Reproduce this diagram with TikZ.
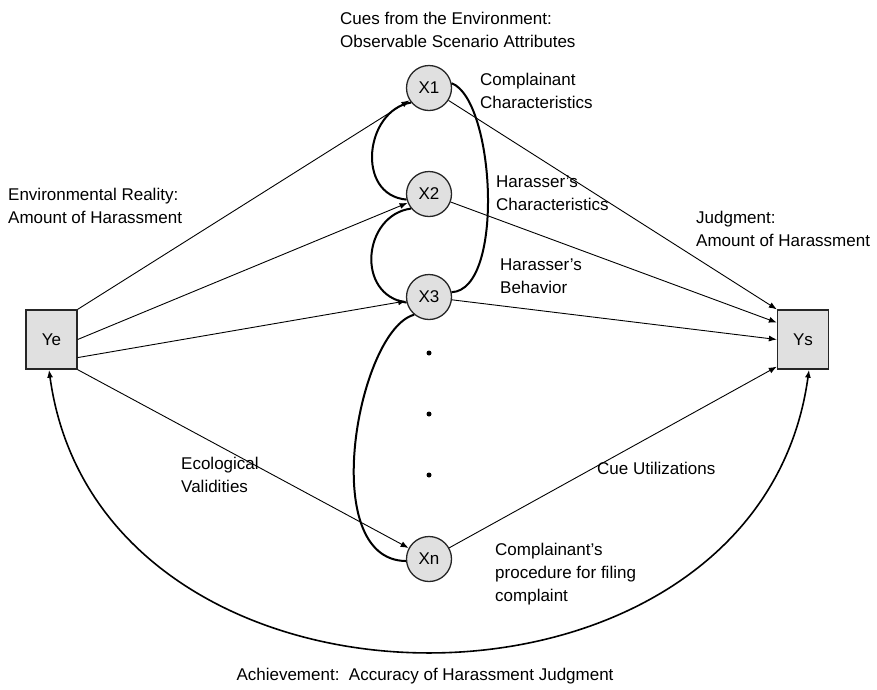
\documentclass[tikz,border=0pt]{standalone}
\usepackage{fontspec}
\setmainfont{Liberation Sans}
\usetikzlibrary{arrows.meta,calc}
\begin{document}
\begin{tikzpicture}[x=1pt,y=-1pt,
  every node/.style={font=\fontsize{17}{23}\selectfont},
  var/.style={draw=black!85,line width=1.3pt,fill=black!12,minimum width=51pt,minimum height=59pt,inner sep=0pt},
  cue/.style={draw=black!85,line width=1.3pt,fill=black!12,circle,minimum size=45pt,inner sep=0pt},
  lbl/.style={anchor=north west,align=left,inner sep=0pt},
  path/.style={line width=0.9pt,-{Latex[length=8pt,width=6pt]}},
  corr/.style={line width=2pt},
  achieve/.style={line width=1.6pt,{Latex[length=8pt,width=6pt]}-{Latex[length=8pt,width=6pt]}}]
\useasboundingbox (0,0) rectangle (877,689);

% criterion and judgment
\node[var] (Ye) at (51.5,339.5) {Ye};
\node[var] (Ys) at (803,339.5) {Ys};

% cues
\node[cue] (X1) at (429,88) {X1};
\node[cue] (X2) at (429,194) {X2};
\node[cue] (X3) at (429,297) {X3};
\node[cue] (Xn) at (429,559) {Xn};

% ellipsis dots
\foreach \y/\n in {353/d1,414/d2,475/d3}
  \node[circle,fill=black,inner sep=0pt,minimum size=5pt] (\n) at (429,\y) {};

% ecological validities
\draw[path] (Ye.north east) -- (X1);
\draw[path] (Ye.east) -- (X2);
\draw[path] ($(Ye.east)!0.6!(Ye.south east)$) -- (X3);
\draw[path] (Ye.south east) -- (Xn);

% cue utilizations
\draw[path] (X1) -- (Ys.north west);
\draw[path] (X2) -- ($(Ys.north west)!0.22!(Ys.south west)$);
\draw[path] (X3) -- (Ys.west);
\draw[path] (Xn) -- ($(Ys.north west)!0.95!(Ys.south west)$);

% intercorrelations among cues
\draw[corr] (X1.-141) .. controls (365,110) and (355,195) .. (X2.-166);
\draw[corr] (X2.-141) .. controls (363,215) and (355,295) .. (X3.-166);
\draw[corr] (X1.12) .. controls (495,100) and (505,290) .. (X3.12);
\draw[corr] (X3.-130) .. controls (358,330) and (316,560) .. (Xn.-175);

% achievement
\coordinate (a1) at ($(Ye.south)+(-2.5,0)$);
\coordinate (a2) at ($(Ys.south)+(6,0)$);
\draw[achieve] (a1) .. controls (100,745) and (758,745) .. (a2);

% labels
\node[lbl] (tCues) at (340,12) {Cues from the Environment:\\Observable Scenario Attributes};
\node[lbl] (tC1) at (480,72.5) {Complainant\\Characteristics};
\node[lbl] (tC2) at (496,175.5) {Harasser’s\\Characteristics};
\node[lbl] (tC3) at (500,258.5) {Harasser’s\\Behavior};
\node[lbl] (tEnv) at (8,187.5) {Environmental Reality:\\Amount of Harassment};
\node[lbl] (tJud) at (696,210.5) {Judgment:\\Amount of Harassment};
\node[lbl] (tEco) at (181,456.5) {Ecological\\Validities};
\node[lbl] (tUtil) at (597,461.5) {Cue Utilizations};
\node[lbl] (tCn) at (495,542.5) {Complainant’s\\procedure for filing\\complaint};
\node[inner sep=0pt] (tAch) at (425,676) {Achievement:\ \ Accuracy of Harassment Judgment};
\end{tikzpicture}
\end{document}
